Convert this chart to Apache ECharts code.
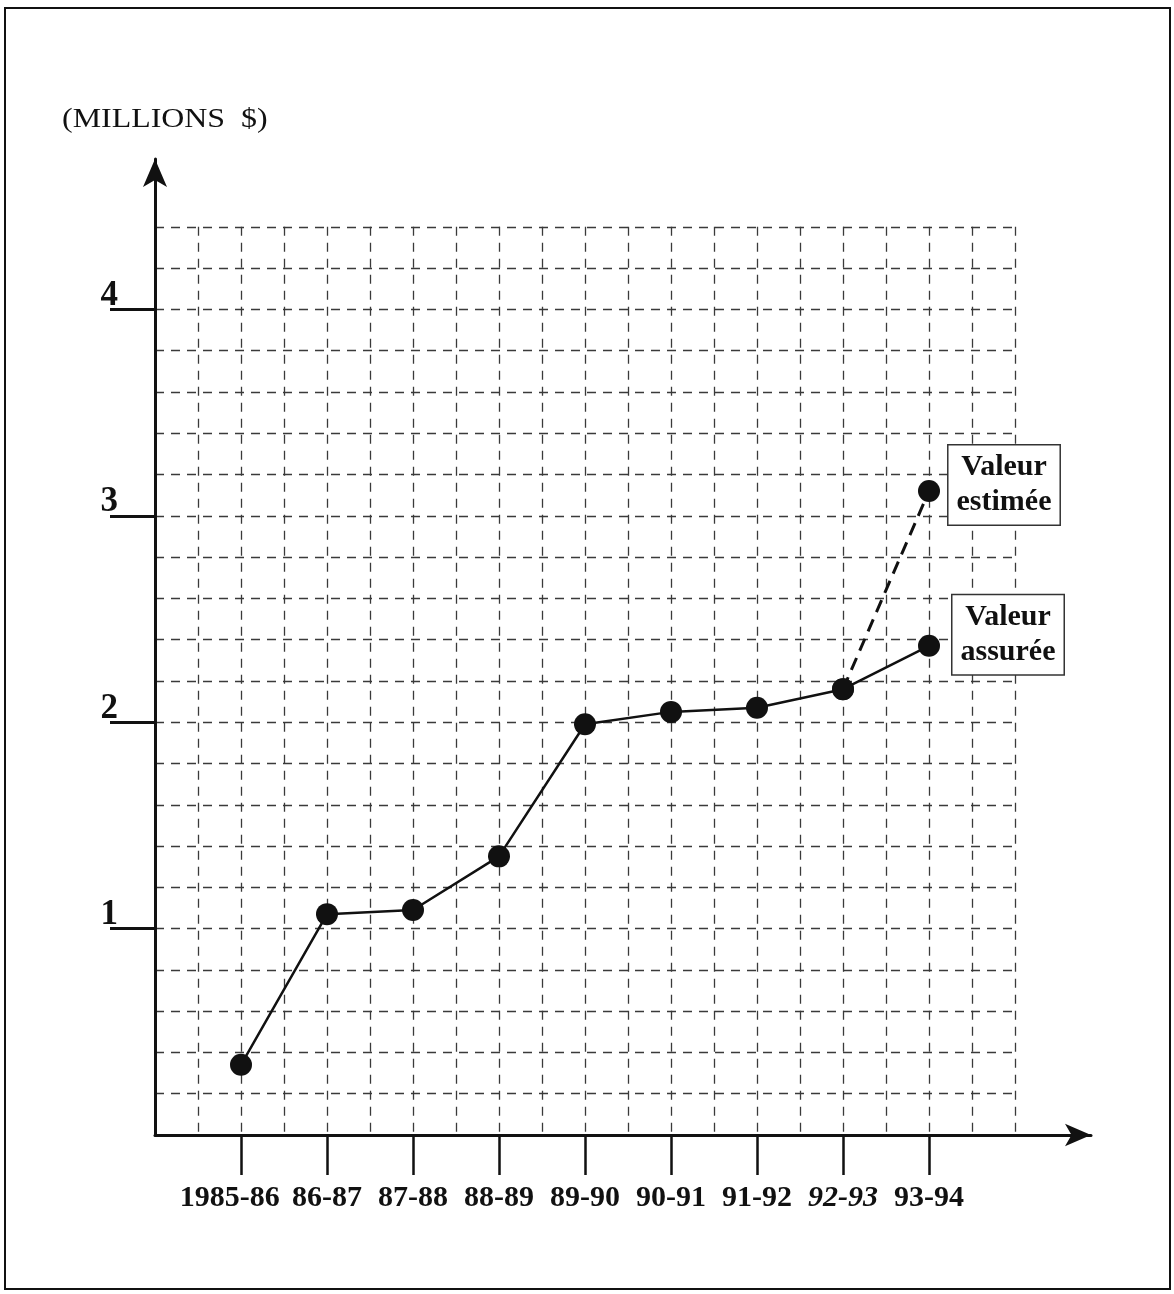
<!DOCTYPE html>
<html>
<head>
<meta charset="utf-8">
<script src="https://cdn.jsdelivr.net/npm/echarts@6/dist/echarts.min.js"></script>
<style>
html,body{margin:0;padding:0;background:#fff;}
#c{width:1174px;height:1294px;}
</style>
</head>
<body>
<div id="c"></div>
<script>
// ---- data ----
const categories = ['1985-86','86-87','87-88','88-89','89-90','90-91','91-92','92-93','93-94'];
const italicCategories = ['92-93'];
const valeurAssuree = [0.34, 1.07, 1.09, 1.35, 1.99, 2.05, 2.07, 2.16, 2.37];
const valeurEstimee = [null, null, null, null, null, null, null, 2.16, 3.12];
const yTicks = [1, 2, 3, 4];
const yUnitLabel = '(MILLIONS  $)';
const labelEstimee = 'Valeur\nestimée';
const labelAssuree = 'Valeur\nassurée';

// ---- layout ----
const L = 155, B = 1135;
const unitX = 86, unitY = 206.4;
const gridW = 10 * unitX, gridH = 4.4 * unitY;
const axW = 936, axH = 976;
const serif = '"Liberation Serif", "DejaVu Serif", serif';

const chart = echarts.init(document.getElementById('c'), null, {renderer: 'canvas'});
const last = categories.length - 1;
const catPositions = categories.map((c, i) => i + 1);
// first category listed last so the min/max overlap check does not drop a label
const labelOrder = catPositions.slice(1).concat(catPositions.slice(0, 1));

function boxLabel(text, dist, dy) {
  return {
    show: true, position: 'right', distance: dist, formatter: text,
    fontFamily: serif, fontSize: 30, fontWeight: 'bold', color: '#111', lineHeight: 35,
    align: 'center', backgroundColor: '#fff', borderColor: '#333', borderWidth: 1.5,
    padding: [5, 8, 4, 8], offset: [59, dy]
  };
}
function toData(arr, lbl) {
  return arr.map((v, i) => {
    const d = {value: [i + 1, v]};
    if (i === last) d.label = lbl;
    return d;
  });
}

chart.setOption({
  backgroundColor: '#fff',
  animation: false,
  graphic: [
    {type: 'rect', shape: {x: 5, y: 8, width: 1165, height: 1281},
     style: {fill: 'none', stroke: '#111', lineWidth: 2}},
    {type: 'text', x: 62, y: 106, scaleX: 1.14,
     style: {text: yUnitLabel, font: '28px ' + serif, fill: '#111'}}
  ],
  grid: [
    {left: L, top: B - gridH, width: gridW, height: gridH},
    {left: L, top: B - axH, width: axW, height: axH}
  ],
  xAxis: [
    {gridIndex: 0, type: 'value', min: 0, max: 10, interval: 0.5,
     axisLine: {show: false}, axisTick: {show: false}, axisLabel: {show: false},
     splitLine: {show: true, lineStyle: {color: '#3a3a3a', width: 1.3, type: [9, 7]}}},
    {gridIndex: 1, type: 'value', min: 0, max: axW / unitX,
     axisLine: {show: true, symbol: ['none', 'arrow'], symbolSize: [17, 26],
                lineStyle: {color: '#111', width: 3}},
     axisTick: {show: true, length: 40, customValues: catPositions,
                lineStyle: {color: '#111', width: 2.5}},
     axisLabel: {show: true, margin: 48, customValues: labelOrder,
                 fontFamily: serif, fontSize: 30, fontWeight: 'bold', color: '#111',
                 formatter: (v) => {
                   const i = Math.round(v) - 1;
                   const c = categories[i] || '';
                   if (italicCategories.includes(c)) return '{i|' + c + '}';
                   return i === 0 ? c + '   ' : c;
                 },
                 rich: {i: {fontFamily: serif, fontSize: 30, fontStyle: 'italic', color: '#111'}}},
     splitLine: {show: false}}
  ],
  yAxis: [
    {gridIndex: 0, type: 'value', min: 0, max: 4.4, interval: 0.2,
     axisLine: {show: false}, axisTick: {show: false}, axisLabel: {show: false},
     splitLine: {show: true, lineStyle: {color: '#3a3a3a', width: 1.3, type: [9, 7]}}},
    {gridIndex: 1, type: 'value', min: 0, max: axH / unitY,
     axisLine: {show: true, symbol: ['none', 'arrow'], symbolSize: [18, 28],
                lineStyle: {color: '#111', width: 3}},
     axisTick: {show: true, length: 45, customValues: yTicks, lineStyle: {color: '#111', width: 3}},
     axisLabel: {show: true, margin: 37, customValues: yTicks, verticalAlign: 'bottom',
                 lineHeight: 27,
                 fontFamily: serif, fontSize: 35, fontWeight: 'bold', color: '#111',
                 formatter: (v) => String(Math.round(v))},
     splitLine: {show: false}}
  ],
  series: [
    {name: 'Valeur estimée', type: 'line', xAxisIndex: 0, yAxisIndex: 0,
     data: toData(valeurEstimee, boxLabel(labelEstimee, 5, -6)), connectNulls: false,
     symbol: 'circle', symbolSize: 22,
     itemStyle: {color: '#111'},
     lineStyle: {color: '#111', width: 3, type: [13, 8]},
     label: {show: false},
     z: 3},
    {name: 'Valeur assurée', type: 'line', xAxisIndex: 0, yAxisIndex: 0,
     data: toData(valeurAssuree, boxLabel(labelAssuree, 9, -11)),
     symbol: 'circle', symbolSize: 22,
     itemStyle: {color: '#111'},
     lineStyle: {color: '#111', width: 2.5},
     label: {show: false},
     z: 4}
  ]
});
</script>
</body>
</html>
